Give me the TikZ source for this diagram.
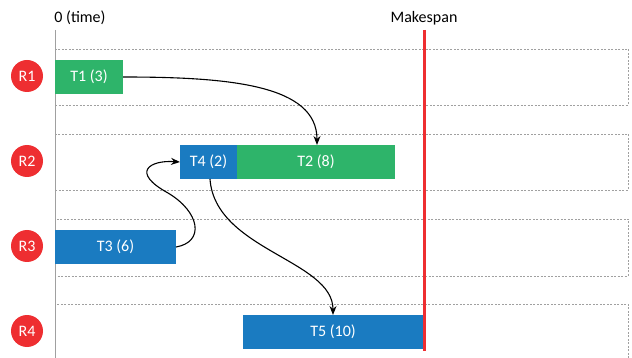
\documentclass[tikz,border=0pt]{standalone}
\usepackage{fontspec}
\setmainfont{Carlito}
\usetikzlibrary{arrows.meta}

\definecolor{taskgreen}{HTML}{2EB46A}
\definecolor{taskblue}{HTML}{1A7BC1}
\definecolor{resred}{HTML}{EE2E31}
\definecolor{lanegray}{HTML}{A0A0A0}

\tikzset{
  task/.style={anchor=north west, minimum height=34pt, inner sep=0pt, outer sep=0pt,
    text=white, font=\fontsize{16}{19}\selectfont},
  resource/.style={circle, fill=resred, minimum size=32pt, inner sep=0pt,
    text=white, font=\fontsize{16}{19}\selectfont},
  lane/.style={draw=lanegray, line width=0.8pt, dash pattern=on 2pt off 1.5pt},
  dep/.style={-{Stealth[length=9pt,width=7pt]}, line width=1.1pt},
  label/.style={font=\fontsize{16}{19}\selectfont}
}

\begin{document}
\begin{tikzpicture}[x=1pt,y=-1pt]
        \useasboundingbox (0,0) rectangle (632,358);

        % Faixas dos recursos
        \draw[lane] (55,49) rectangle (628,105);
        \draw[lane] (55,134) rectangle (628,190);
        \draw[lane] (55,219) rectangle (628,276);
        \draw[lane] (628,358) -- (628,304) -- (55,304);

        % Eixo do tempo
        \node[label] (zero) at (80,18) {0 (time)};
        \draw[lanegray, line width=1pt] (55,30) -- (55,358);

        % Recursos
        \node[resource] (r1) at (27,76) {R1};
        \node[resource] (r2) at (27,161) {R2};
        \node[resource] (r3) at (27,246) {R3};
        \node[resource] (r4) at (27,331) {R4};

        % Tarefas
        \node[task, fill=taskgreen, minimum width=68pt] (t1) at (55,60) {T1 (3)};
        \node[task, fill=taskblue, minimum width=57pt] (t4) at (180,145) {T4 (2)};
        \node[task, fill=taskgreen, minimum width=158pt, anchor=west] (t2) at (t4.east) {T2 (8)};
        \node[task, fill=taskblue, minimum width=121pt] (t3) at (55,230) {T3 (6)};
        \node[task, fill=taskblue, minimum width=180pt] (t5) at (243,315) {T5 (10)};

        % Makespan
        \node[label] (mk) at (424,18) {Makespan};
        \coordinate (mktop) at (424,30);
        \coordinate (mkbot) at (424,351);
        \draw[resred, line width=3pt] (mktop) -- (mkbot);

        % Dependencias
        \draw[dep] (t1.east) .. controls (230,77) and (317,85) .. (t2.north -| 317,0);
        \draw[dep] (t3.east) .. controls (205,242) and (200,212) .. (168,193)
                   .. controls (130,172) and (150,160) .. (t4.west);
        \draw[dep] (t4.south -| 210,0) .. controls (215,250) and (333,260) .. (t5.north -| 333,0);
    \end{tikzpicture}
\end{document}
